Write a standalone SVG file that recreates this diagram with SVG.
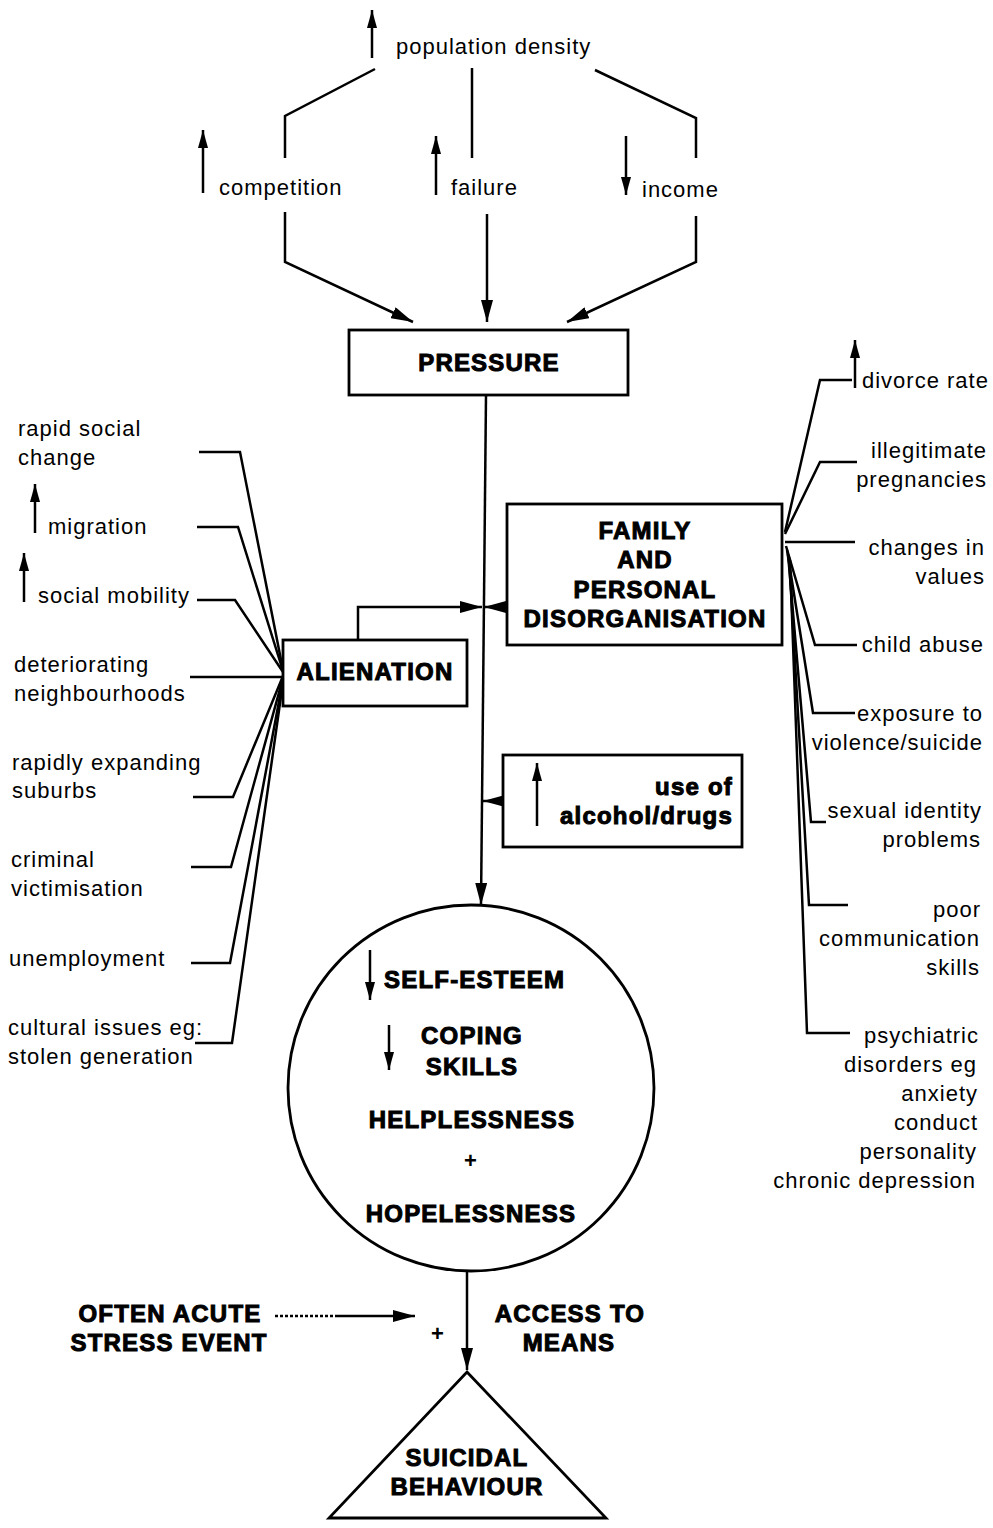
<svg xmlns="http://www.w3.org/2000/svg" width="993" height="1528" viewBox="0 0 993 1528">
<style>
.r{font-family:"Liberation Sans",Arial,sans-serif;font-size:22px;letter-spacing:1px;fill:#000}
.b{font-family:"Liberation Sans",Arial,sans-serif;font-size:24px;font-weight:bold;letter-spacing:1.2px;fill:#000;stroke:#000;stroke-width:1px}
.m{text-anchor:middle}
.e{text-anchor:end}
.ln{fill:none;stroke:#000;stroke-width:2.5}
.bx{fill:#fff;stroke:#000;stroke-width:2.8}
</style>
<defs>
<marker id="ah" viewBox="0 0 22 12" refX="22" refY="6" markerWidth="22" markerHeight="12" markerUnits="userSpaceOnUse" orient="auto"><path d="M0,0 L22,6 L0,12 z"/></marker>
<marker id="sh" viewBox="0 0 18 10" refX="18" refY="5" markerWidth="18" markerHeight="10" markerUnits="userSpaceOnUse" orient="auto"><path d="M0,0 L18,5 L0,10 z"/></marker>
</defs>
<g id="connectors">
<path class="ln" d="M375,69 L285,116 L285,158"/>
<path class="ln" d="M472,68 L472,158"/>
<path class="ln" d="M595,70 L696,118 L696,158"/>
<path class="ln" d="M285,212 L285,262 L413,322" marker-end="url(#ah)"/>
<path class="ln" d="M487,214 L487,322" marker-end="url(#ah)"/>
<path class="ln" d="M696,216 L696,262 L567,322" marker-end="url(#ah)"/>
<path class="ln" d="M486,395 L481,905" marker-end="url(#ah)"/>
<path class="ln" d="M358,640 L358,607 L482,607" marker-end="url(#ah)"/>
<path class="ln" d="M507,607 L484,607" marker-end="url(#ah)"/>
<path class="ln" d="M503,801 L483,801" marker-end="url(#ah)"/>
<path class="ln" d="M199,452 L240,452 L283,670"/>
<path class="ln" d="M197,527 L238,527 L283,671"/>
<path class="ln" d="M197,600 L235,600 L283,672"/>
<path class="ln" d="M190,677 L283,677"/>
<path class="ln" d="M193,797 L233,797 L283,676"/>
<path class="ln" d="M191,867 L231,867 L283,678"/>
<path class="ln" d="M191,963 L230,963 L283,680"/>
<path class="ln" d="M195,1043 L232,1043 L283,682"/>
<path class="ln" d="M785,532 L820,380 L852,380"/>
<path class="ln" d="M785,534 L820,462 L857,462"/>
<path class="ln" d="M785,542 L855,542"/>
<path class="ln" d="M786,546 L815,645 L857,645"/>
<path class="ln" d="M787,550 L813,713 L855,713"/>
<path class="ln" d="M788,554 L811,822 L826,822"/>
<path class="ln" d="M789,557 L809,905 L848,905"/>
<path class="ln" d="M790,560 L807,1033 L850,1033"/>
<path class="ln" d="M467,1272 L467,1370" marker-end="url(#ah)"/>
<path class="ln" d="M275,1316 L335,1316" stroke-dasharray="3,2" stroke-width="1.8"/>
<path class="ln" d="M335,1316 L415,1316" stroke-width="1.8" marker-end="url(#ah)"/>
</g>
<g id="top">
<path class="ln" d="M372,58 L372,10" marker-end="url(#sh)"/>
<text class="r" x="396" y="54">population density</text>
</g>
<g id="competition">
<path class="ln" d="M203,193 L203,130" marker-end="url(#sh)"/>
<text class="r" x="219" y="195">competition</text>
</g>
<g id="failure">
<path class="ln" d="M436,195 L436,136" marker-end="url(#sh)"/>
<text class="r" x="451" y="195">failure</text>
</g>
<g id="income">
<path class="ln" d="M626,136 L626,195" marker-end="url(#sh)"/>
<text class="r" x="642" y="197">income</text>
</g>
<g id="pressure">
<rect class="bx" x="349" y="330" width="279" height="65"/>
<text class="b m" x="489" y="371">PRESSURE</text>
</g>
<g id="family">
<rect class="bx" x="507" y="504" width="275" height="141"/>
<text class="b m" x="645" y="539">FAMILY</text>
<text class="b m" x="645" y="568">AND</text>
<text class="b m" x="645" y="598">PERSONAL</text>
<text class="b m" x="645" y="627">DISORGANISATION</text>
</g>
<g id="alienation">
<rect class="bx" x="283" y="640" width="184" height="66"/>
<text class="b m" x="375" y="680">ALIENATION</text>
</g>
<g id="alcohol">
<rect class="bx" x="503" y="755" width="239" height="92"/>
<path class="ln" d="M537,826 L537,763" marker-end="url(#sh)"/>
<text class="b e" x="733" y="795">use of</text>
<text class="b e" x="733" y="824">alcohol/drugs</text>
</g>
<g id="left-factors">
<text class="r" x="18" y="436">rapid social</text>
<text class="r" x="18" y="465">change</text>
<path class="ln" d="M35,533 L35,484" marker-end="url(#sh)"/>
<text class="r" x="48" y="534">migration</text>
<path class="ln" d="M24,602 L24,553" marker-end="url(#sh)"/>
<text class="r" x="38" y="603">social mobility</text>
<text class="r" x="14" y="672">deteriorating</text>
<text class="r" x="14" y="701">neighbourhoods</text>
<text class="r" x="12" y="770">rapidly expanding</text>
<text class="r" x="12" y="798">suburbs</text>
<text class="r" x="11" y="867">criminal</text>
<text class="r" x="11" y="896">victimisation</text>
<text class="r" x="9" y="966">unemployment</text>
<text class="r" x="8" y="1035">cultural issues eg:</text>
<text class="r" x="8" y="1064">stolen generation</text>
</g>
<g id="right-factors">
<path class="ln" d="M855,388 L855,340" marker-end="url(#sh)"/>
<text class="r" x="862" y="388">divorce rate</text>
<text class="r e" x="987" y="458">illegitimate</text>
<text class="r e" x="987" y="487">pregnancies</text>
<text class="r e" x="985" y="555">changes in</text>
<text class="r e" x="985" y="584">values</text>
<text class="r e" x="984" y="652">child abuse</text>
<text class="r e" x="983" y="721">exposure to</text>
<text class="r e" x="983" y="750">violence/suicide</text>
<text class="r e" x="982" y="818">sexual identity</text>
<text class="r e" x="981" y="847">problems</text>
<text class="r e" x="981" y="917">poor</text>
<text class="r e" x="980" y="946">communication</text>
<text class="r e" x="980" y="975">skills</text>
<text class="r e" x="979" y="1043">psychiatric</text>
<text class="r e" x="977" y="1072">disorders eg</text>
<text class="r e" x="978" y="1101">anxiety</text>
<text class="r e" x="978" y="1130">conduct</text>
<text class="r e" x="977" y="1159">personality</text>
<text class="r e" x="976" y="1188">chronic depression</text>
</g>
<g id="self">
<circle cx="471" cy="1088" r="183" fill="none" stroke="#000" stroke-width="2.8"/>
<path class="ln" d="M370,950 L370,1000" marker-end="url(#sh)"/>
<text class="b" x="384" y="988">SELF-ESTEEM</text>
<path class="ln" d="M389,1025 L389,1070" marker-end="url(#sh)"/>
<text class="b m" x="472" y="1044">COPING</text>
<text class="b m" x="472" y="1075">SKILLS</text>
<text class="b m" x="472" y="1128">HELPLESSNESS</text>
<text class="r m" x="471" y="1168" style="font-weight:bold">+</text>
<text class="b m" x="471" y="1222">HOPELESSNESS</text>
</g>
<g id="stress">
<text class="b m" x="170" y="1322">OFTEN ACUTE</text>
<text class="b m" x="169" y="1351">STRESS EVENT</text>
</g>
<text class="r m" x="438" y="1341" style="font-weight:bold">+</text>
<g id="access">
<text class="b m" x="570" y="1322">ACCESS TO</text>
<text class="b m" x="569" y="1351">MEANS</text>
</g>
<g id="suicidal">
<path d="M467,1372 L606,1518 L329,1518 Z" fill="none" stroke="#000" stroke-width="2.8"/>
<text class="b m" x="467" y="1466">SUICIDAL</text>
<text class="b m" x="467" y="1495">BEHAVIOUR</text>
</g>
</svg>
